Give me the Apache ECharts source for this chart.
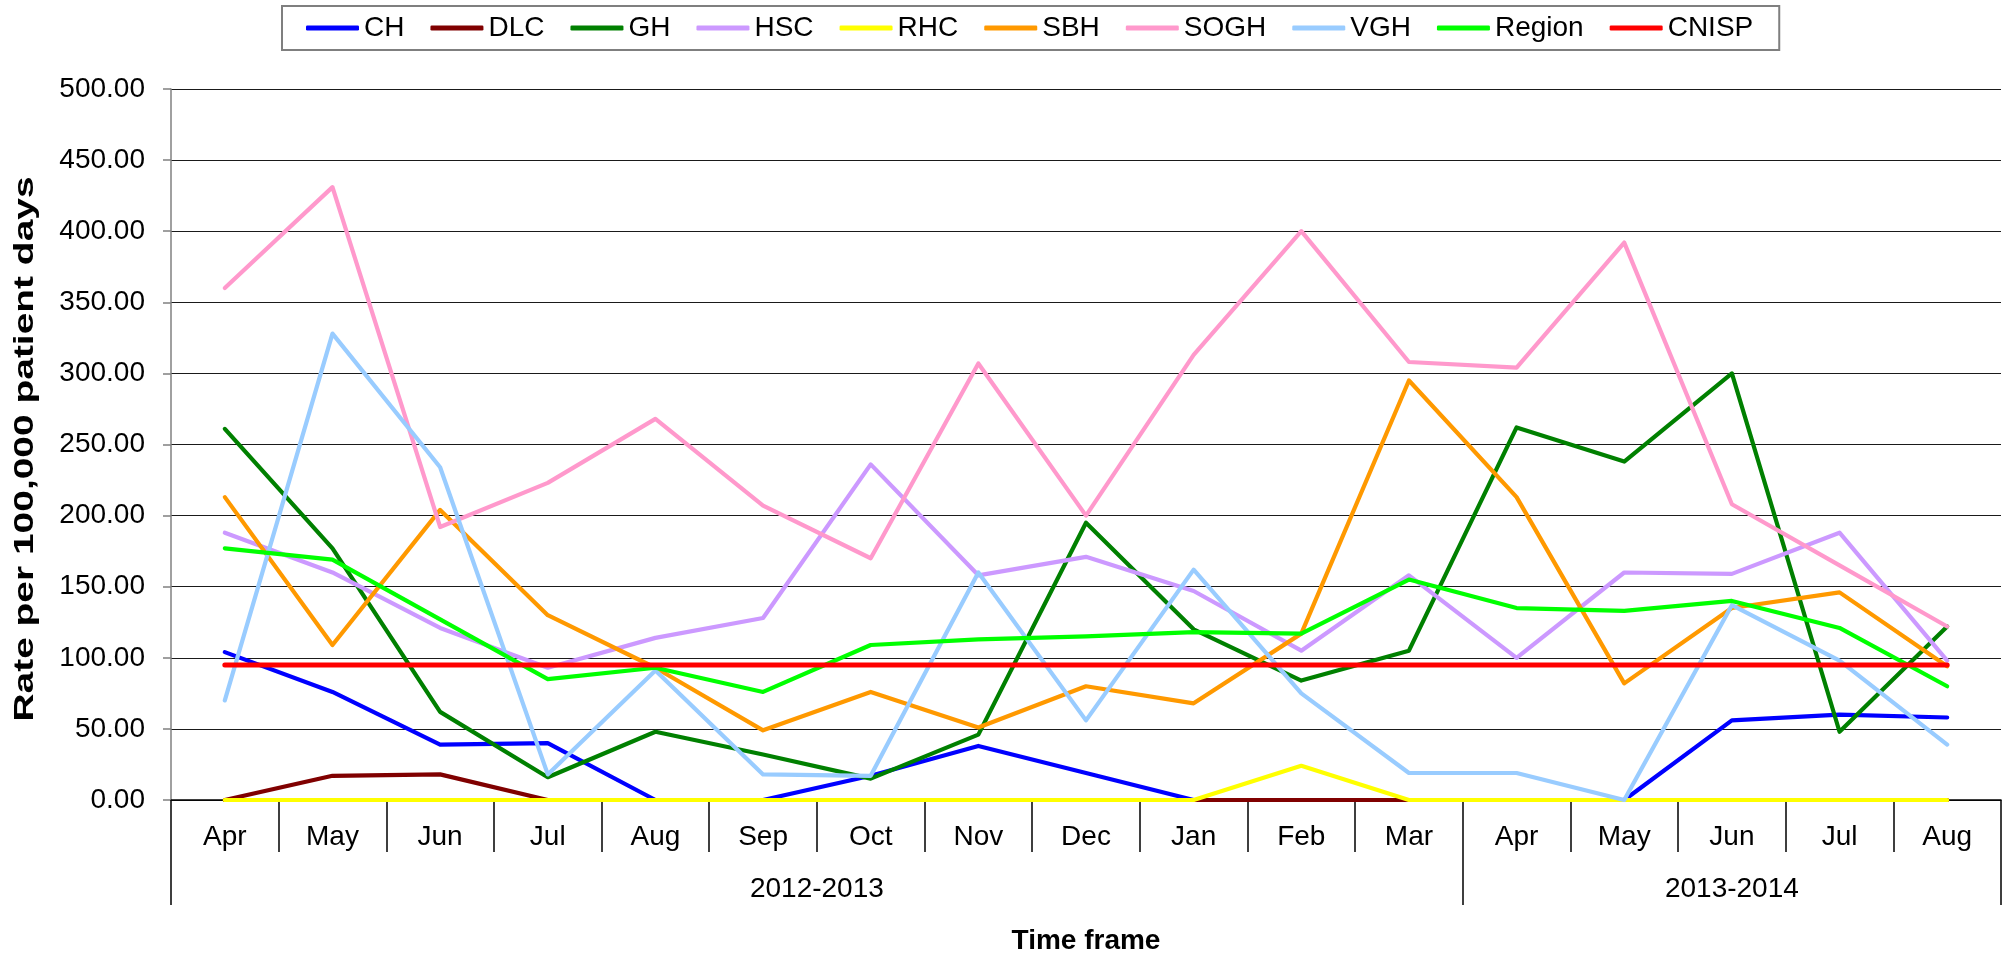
<!DOCTYPE html>
<html>
<head>
<meta charset="utf-8">
<script src="https://cdn.jsdelivr.net/npm/echarts@6/dist/echarts.min.js"></script>
<style>
html,body{margin:0;padding:0;background:#fff;}
#chart{width:2009px;height:960px;}
</style>
</head>
<body>
<div id="chart"></div>
<script>
const months = ['Apr','May','Jun','Jul','Aug','Sep','Oct','Nov','Dec','Jan','Feb','Mar','Apr','May','Jun','Jul','Aug'];
const yearGroups = ['2012-2013','2013-2014'];
const yearGroupSizes = [12, 5];
const yTicks = [0, 50, 100, 150, 200, 250, 300, 350, 400, 450, 500];
const yTitle = 'Rate per 100,000 patient days';
const xTitle = 'Time frame';

const CH     = [104, 76, 39, 40, 0, 0, 17, 38, 19, 0, 0, 0, 0, 0, 56, 60, 58];
const DLC    = [0, 17, 18, 0, 0, 0, 0, 0, 0, 0, 0, 0, 0, 0, 0, 0, 0];
const GH     = [261, 177, 62, 16, 48, 32, 15, 46, 195, 120, 84, 105, 262, 238, 300, 48, 122];
const HSC    = [188, 160, 121, 93, 114, 128, 236, 158, 171, 147, 105, 158, 100, 160, 159, 188, 98];
const RHC    = [0, 0, 0, 0, 0, 0, 0, 0, 0, 0, 24, 0, 0, 0, 0, 0, 0];
const SBH    = [213, 109, 204, 130, 93, 49, 76, 51, 80, 68, 117, 295, 213, 82, 135, 146, 94];
const SOGH   = [360, 431, 192, 223, 268, 207, 170, 307, 200, 313, 400, 308, 304, 392, 208, 165, 122];
const VGH    = [70, 328, 234, 18, 91, 18, 17, 160, 56, 162, 75, 19, 19, 0, 137, 98, 39];
const Region = [177, 169, 127, 85, 93, 76, 109, 113, 115, 118, 117, 155, 135, 133, 140, 121, 80];
const CNISP  = [95, 95, 95, 95, 95, 95, 95, 95, 95, 95, 95, 95, 95, 95, 95, 95, 95];

const seriesNames = ['CH','DLC','GH','HSC','RHC','SBH','SOGH','VGH','Region','CNISP'];
const seriesData = [CH, DLC, GH, HSC, RHC, SBH, SOGH, VGH, Region, CNISP];
const seriesColors = ['#0000FF','#800000','#008000','#CC99FF','#FFFF00','#FF9900','#FF99CC','#99CCFF','#00FF00','#FF0000'];

// group boundaries and centers for the second (year) level of the axis
const groupBounds = [0];
const groupCenters = [];
const centerToName = {};
yearGroupSizes.forEach((n, i) => {
  const start = groupBounds[groupBounds.length - 1];
  const c = start + n / 2;
  groupCenters.push(c);
  centerToName[c] = yearGroups[i];
  groupBounds.push(start + n);
});

const FONT = "'Liberation Sans', Arial, sans-serif";

const chart = echarts.init(document.getElementById('chart'), null, {renderer: 'canvas'});
chart.setOption({
  animation: false,
  backgroundColor: '#ffffff',
  textStyle: {fontFamily: FONT},
  legend: {
    data: seriesNames,
    left: 282,
    top: 6,
    orient: 'horizontal',
    padding: [8, 26, 8, 24],
    itemWidth: 53,
    itemHeight: 5,
    itemGap: 26,
    icon: 'roundRect',
    borderColor: '#7f7f7f',
    borderWidth: 2,
    backgroundColor: '#ffffff',
    textStyle: {fontSize: 28, color: '#000', fontFamily: FONT}
  },
  grid: {left: 171, right: 8, top: 89, bottom: 153, containLabel: false},
  graphic: [{
    type: 'text',
    x: 25,
    y: 449,
    rotation: Math.PI / 2,
    scaleX: 1.39,
    style: {
      text: yTitle,
      font: "bold 28px 'Liberation Sans', Arial, sans-serif",
      fill: '#000',
      align: 'center',
      verticalAlign: 'middle'
    }
  }],
  xAxis: [
    {
      type: 'category',
      data: months,
      boundaryGap: true,
      axisLine: {show: true, lineStyle: {color: '#000', width: 1.5}},
      axisTick: {show: true, interval: 0, length: 52, lineStyle: {color: '#000', width: 1.5}},
      axisLabel: {interval: 0, fontSize: 28, color: '#000', margin: 23, fontFamily: FONT},
      splitLine: {show: false}
    },
    {
      type: 'value',
      position: 'bottom',
      min: 0,
      max: groupBounds[groupBounds.length - 1],
      axisLine: {show: false},
      axisTick: {show: true, customValues: groupBounds, length: 105, lineStyle: {color: '#000', width: 1.5}},
      axisLabel: {
        show: true,
        customValues: groupCenters,
        formatter: v => centerToName[v] || '',
        fontSize: 28, color: '#000', margin: 75, fontFamily: FONT
      },
      splitLine: {show: false},
      name: xTitle,
      nameLocation: 'middle',
      nameGap: 127,
      nameTextStyle: {fontSize: 28, fontWeight: 'bold', color: '#000', fontFamily: FONT}
    }
  ],
  yAxis: {
    type: 'value',
    min: yTicks[0],
    max: yTicks[yTicks.length - 1],
    interval: yTicks[1] - yTicks[0],
    axisLine: {show: true, lineStyle: {color: '#808080', width: 1.5}},
    axisTick: {show: true, inside: false, length: 8, lineStyle: {color: '#808080', width: 1.5}},
    axisLabel: {formatter: v => v.toFixed(2), fontSize: 28, color: '#000', margin: 26, fontFamily: FONT},
    splitLine: {show: true, lineStyle: {color: '#1a1a1a', width: 1.2}}
  },
  series: seriesNames.map((name, i) => ({
    name: name,
    type: 'line',
    xAxisIndex: 0,
    yAxisIndex: 0,
    data: seriesData[i],
    showSymbol: false,
    symbol: 'none',
    color: seriesColors[i],
    lineStyle: {color: seriesColors[i], width: name === 'CNISP' ? 5 : 4.2, cap: 'round', join: 'round'},
    z: 2 + i
  }))
});
</script>
</body>
</html>
